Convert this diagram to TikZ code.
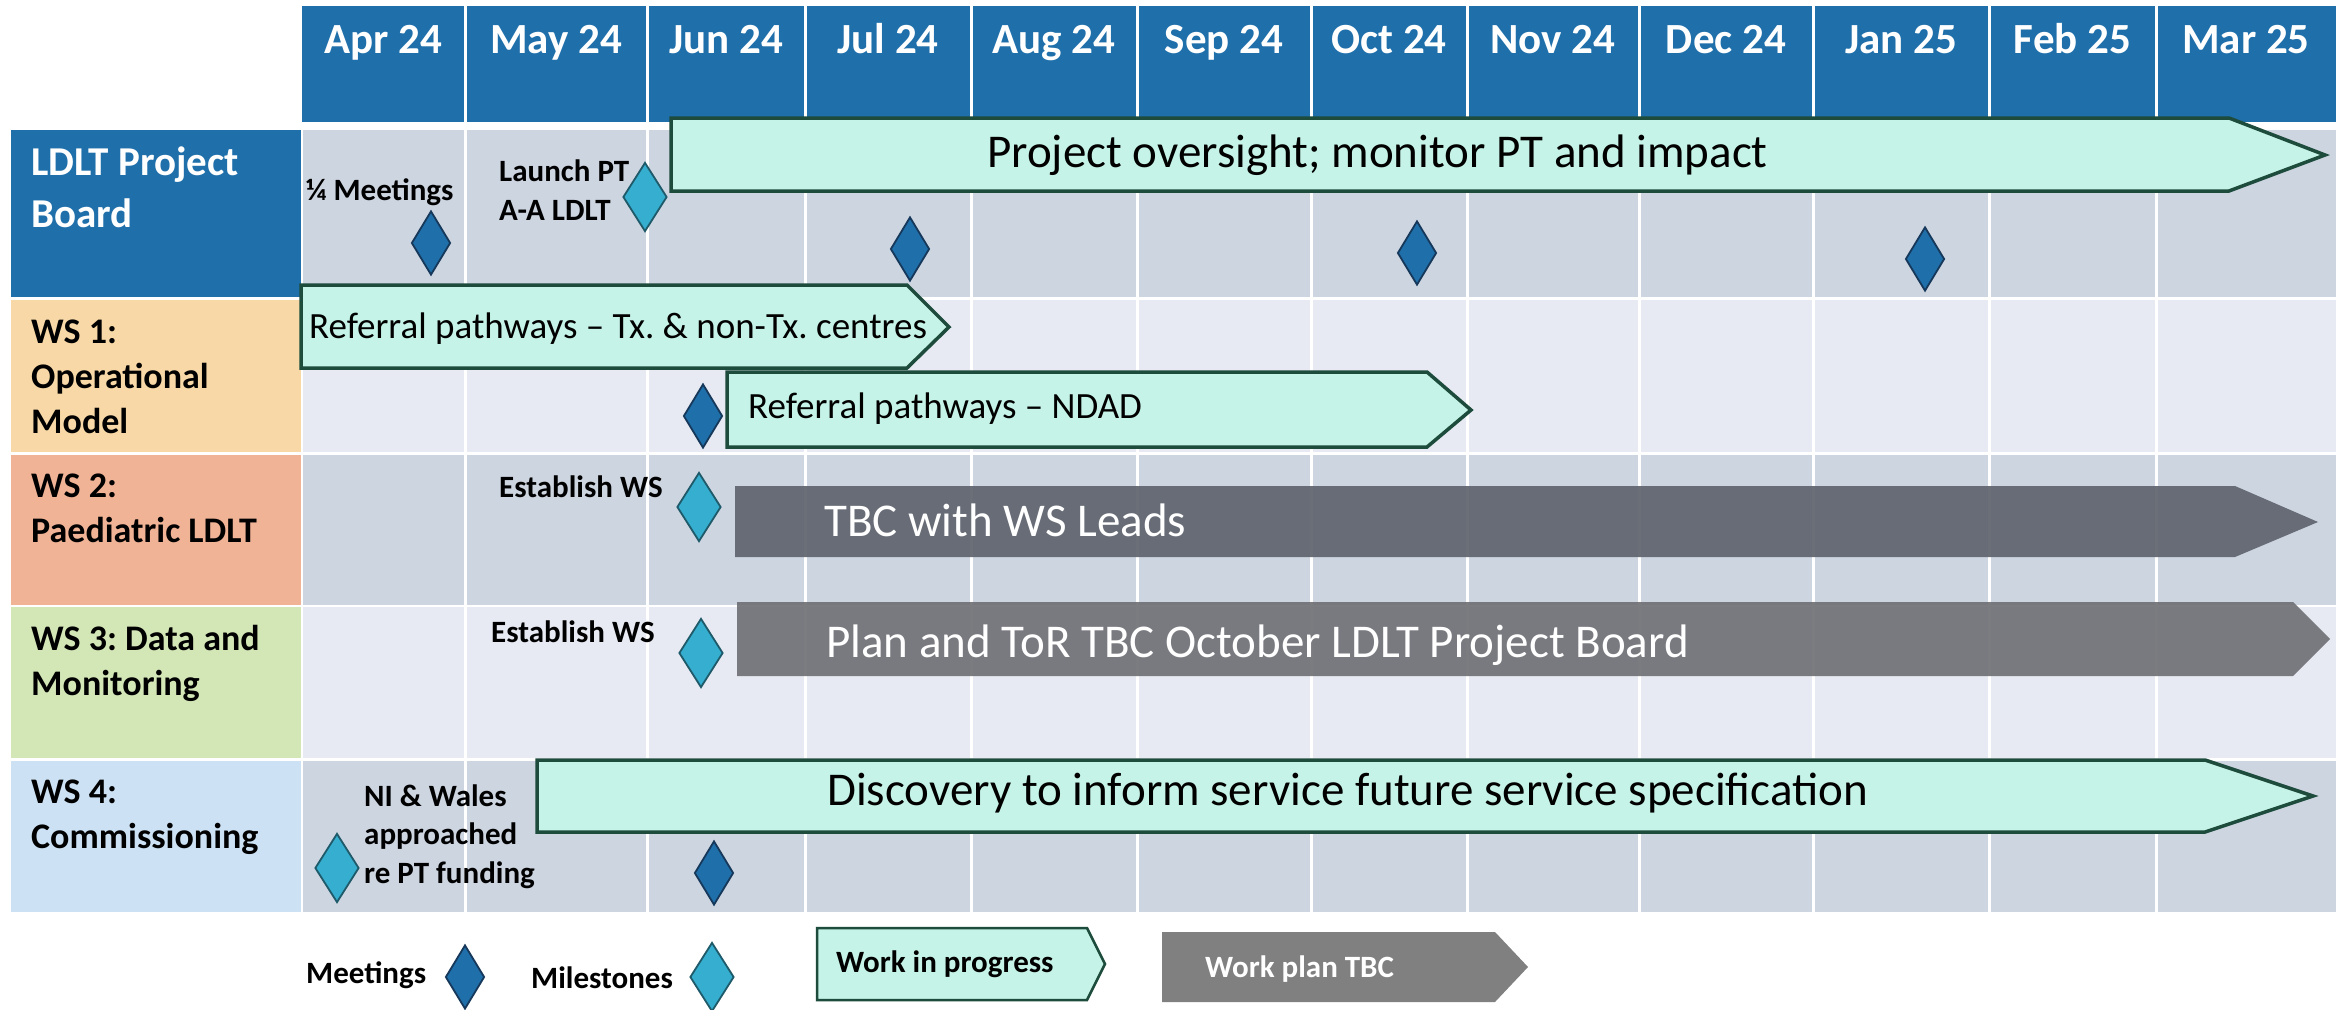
\documentclass[tikz,border=0pt]{standalone}
\usepackage{fontspec}
\setmainfont{Carlito}
\frenchspacing
\usetikzlibrary{shapes.geometric}
\definecolor{hdblue}{HTML}{1F6FAA}
\definecolor{banddark}{HTML}{CDD5E1}
\definecolor{bandlight}{HTML}{E7EAF2}
\definecolor{wsone}{HTML}{F8D8A6}
\definecolor{wstwo}{HTML}{F1B396}
\definecolor{wsthree}{HTML}{D3E6B6}
\definecolor{wsfour}{HTML}{CCE2F4}
\definecolor{mint}{HTML}{C6F3E7}
\definecolor{mintedge}{HTML}{1D4B3C}
\definecolor{tbcdark}{HTML}{5F646D}
\definecolor{tbcmid}{HTML}{707176}
\definecolor{tbclight}{HTML}{808080}
\definecolor{meetedge}{HTML}{16385A}
\definecolor{milefill}{HTML}{35AECF}
\definecolor{mileedge}{HTML}{1E5A6A}

\begin{document}
\begin{tikzpicture}[
x=1pt, y=-1pt,
every node/.style={inner sep=0pt},
month/.style={anchor=base, text=white, font=\fontsize{43}{52}\selectfont\bfseries},
rowlab/.style={anchor=base west, align=left, font=\fontsize{36}{45}\selectfont\bfseries},
note/.style={anchor=base west, align=left, font=\fontsize{31}{38.5}\selectfont\bfseries},
bartext/.style={anchor=base west, font=\fontsize{47}{56}\selectfont},
wip/.style={fill=mint, draw=mintedge, line width=3.5pt},
meet/.style={diamond, draw=meetedge, fill=hdblue, line width=1.8pt, minimum width=39pt, minimum height=64pt},
mile/.style={diamond, draw=mileedge, fill=milefill, line width=1.8pt, minimum width=44pt, minimum height=69pt}]
\useasboundingbox (0,0) rectangle (2336,1009);
\fill[white] (0,0) rectangle (2336,1009);
\fill[hdblue] (302,6) rectangle (2336,122);
\foreach \ya/\yb/\lab/\band in {130/297/hdblue/banddark, 300/452/wsone/bandlight,
    455/605/wstwo/banddark, 607/758/wsthree/bandlight, 761/912/wsfour/banddark}
  {\fill[\lab] (11,\ya) rectangle (301,\yb);
   \fill[\band] (303,\ya) rectangle (2336,\yb);}
\foreach \x in {465,647,805,971,1137,1311,1467,1639,1813,1989,2156}
  \draw[white, line width=3pt] (\x,6) -- (\x,912);
\foreach \xa/\xb/\m [count=\i] in {302/465/Apr 24, 465/647/May 24, 647/805/Jun 24,
    805/971/Jul 24, 971/1137/Aug 24, 1137/1311/Sep 24, 1311/1467/Oct 24,
    1467/1639/Nov 24, 1639/1813/Dec 24, 1813/1989/Jan 25, 1989/2156/Feb 25, 2156/2336/Mar 25}
  \node[month] (mon\i) at ({(\xa+\xb)/2},53) {\m};

\node[rowlab, text=white, font=\fontsize{41}{52}\selectfont\bfseries] (board) at (31,227) {LDLT Project\\Board};
\node[rowlab] (wsa) at (31,433) {WS 1:\\Operational\\Model};
\node[rowlab] (wsb) at (31,542) {WS 2:\\Paediatric LDLT};
\node[rowlab] (wsc) at (31,695) {WS 3: Data and\\Monitoring};
\node[rowlab] (wsd) at (31,848) {WS 4:\\Commissioning};

\draw[wip] (671,118) -- (2229,118) -- (2325,155) -- (2229,191) -- (671,191) -- cycle;
\node[bartext] (oversight) at (987,167) {Project oversight; monitor PT and impact};
\draw[wip] (301,285) -- (907,285) -- (949,327) -- (907,368) -- (301,368) -- cycle;
\node[bartext, font=\fontsize{37}{44}\selectfont] (refa) at (309,338) {Referral pathways – Tx. \& non-Tx. centres};
\draw[wip] (727,372) -- (1427,372) -- (1471,410) -- (1427,447) -- (727,447) -- cycle;
\node[bartext, font=\fontsize{37}{44}\selectfont] (refb) at (748,418) {Referral pathways – NDAD};
\fill[tbcdark, fill opacity=.92] (735,486) -- (2235,486) -- (2318,522) -- (2235,557) -- (735,557) -- cycle;
\node[bartext, text=white] (tbcws) at (824,536) {TBC with WS Leads};
\fill[tbcmid, fill opacity=.92] (737,602) -- (2293,602) -- (2330,639) -- (2293,676) -- (737,676) -- cycle;
\node[bartext, text=white] (plan) at (826,657) {Plan and ToR TBC October LDLT Project Board};
\draw[wip] (537,760) -- (2205,760) -- (2313,796) -- (2205,832) -- (537,832) -- cycle;
\node[bartext] (disc) at (827,805) {Discovery to inform service future service specification};

\node[note] (qtr) at (306,200) {¼ Meetings};
\node[note] (launch) at (499,220) {Launch PT\\A-A LDLT};
\node[note] (estb) at (499,497) {Establish WS};
\node[note] (estc) at (491,642) {Establish WS};
\node[note] (niw) at (364,883) {NI \& Wales\\approached\\re PT funding};

\node[meet] (pb1) at (431,243) {};
\node[meet] (pb2) at (910,249) {};
\node[meet] (pb3) at (1417,253) {};
\node[meet] (pb4) at (1925,259) {};
\node[meet] (wa1) at (703,416) {};
\node[meet] (wd1) at (714,873) {};
\node[mile] (pbl) at (645,197) {};
\node[mile] (wbl) at (699,507) {};
\node[mile] (wcl) at (701,653) {};
\node[mile] (wdl) at (337,868) {};

\node[note] (kmeet) at (306,983) {Meetings};
\node[meet] (kmeetd) at (465,977) {};
\node[note] (kmile) at (531,988) {Milestones};
\node[mile] (kmiled) at (712,977) {};
\draw[wip, line width=2.5pt] (817,928) -- (1087,928) -- (1105,964) -- (1087,1000) -- (817,1000) -- cycle;
\node[note] (kwip) at (836,972) {Work in progress};
\fill[tbclight] (1162,932) -- (1495,932) -- (1528,967) -- (1495,1002) -- (1162,1002) -- cycle;
\node[note, text=white] (ktbc) at (1205,977) {Work plan TBC};
\end{tikzpicture}
\end{document}
